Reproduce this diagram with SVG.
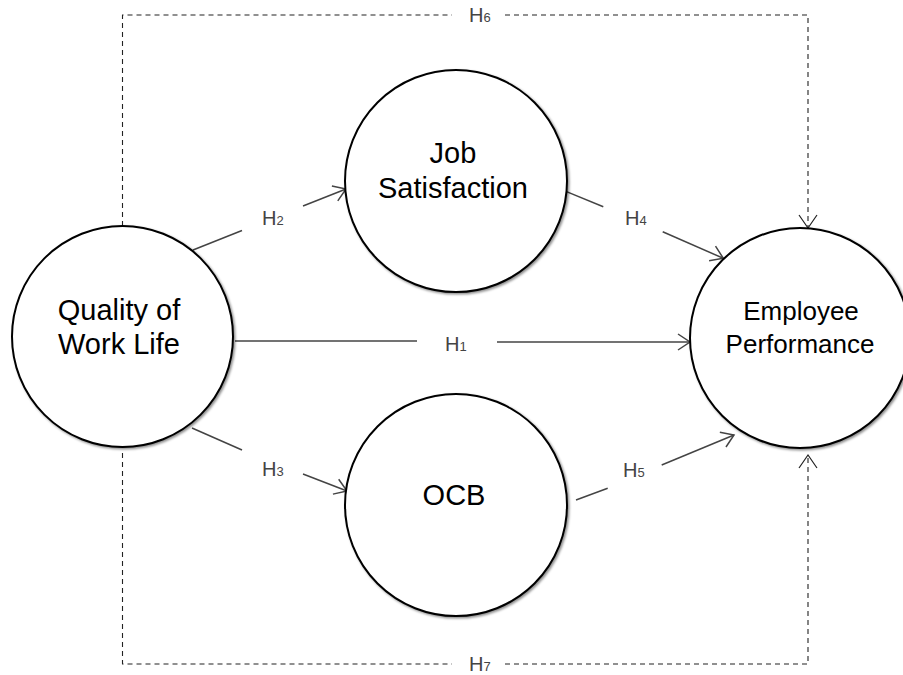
<svg xmlns="http://www.w3.org/2000/svg" width="903" height="675" viewBox="0 0 903 675">
<style>
.node circle{fill:#fff;stroke:#000;stroke-width:2;filter:url(#sh)}
.nt{font-family:"Liberation Sans",Arial,sans-serif;font-size:29px;fill:#000;text-anchor:middle}
.lab{font-family:"Liberation Sans",Arial,sans-serif;font-size:20px;fill:#444}
.sub{font-size:13px}
.con{fill:none;stroke:#444;stroke-width:1.5}
.dash{fill:none;stroke:#222;stroke-width:1.1;stroke-dasharray:5 4}
</style>
<defs>
<filter id="sh" x="-10%" y="-10%" width="125%" height="125%">
<feDropShadow dx="1.5" dy="1.5" stdDeviation="0.8" flood-color="#000" flood-opacity="0.45"/>
</filter>
<marker id="ah" viewBox="-14 -10 16 20" markerWidth="16" markerHeight="20" refX="0" refY="0" orient="auto" markerUnits="userSpaceOnUse">
<path d="M-12,-8 L0,0 L-12,8" fill="none" stroke="#444" stroke-width="1.5"/>
</marker>
<marker id="ahd" viewBox="-15 -10 17 20" markerWidth="17" markerHeight="20" refX="0" refY="0" orient="auto" markerUnits="userSpaceOnUse">
<path d="M-13,-9 L0,0 L-13,9" fill="none" stroke="#222" stroke-width="1.2"/>
</marker>
</defs>
<rect width="903" height="675" fill="#fff"/>
<g id="connectors">
<line class="con" x1="235" y1="341" x2="417" y2="341"/>
<line class="con" x1="497" y1="342" x2="690" y2="342" marker-end="url(#ah)"/>
<line class="con" x1="193" y1="250" x2="242" y2="230.5"/>
<line class="con" x1="303" y1="206" x2="346" y2="189" marker-end="url(#ah)"/>
<line class="con" x1="192" y1="428" x2="242" y2="450"/>
<line class="con" x1="303" y1="474" x2="347" y2="491" marker-end="url(#ah)"/>
<line class="con" x1="566.5" y1="191.6" x2="603.3" y2="206.7"/>
<line class="con" x1="662.7" y1="231.7" x2="723.3" y2="258.3" marker-end="url(#ah)"/>
<line class="con" x1="576" y1="500" x2="607.7" y2="488.3"/>
<line class="con" x1="661.7" y1="465" x2="734" y2="435" marker-end="url(#ah)"/>
<path class="dash" d="M122.5,226 V15 H452"/>
<path class="dash" d="M505,15 H808 V228" marker-end="url(#ahd)"/>
<path class="dash" d="M122.5,453 V664 H452"/>
<path class="dash" d="M505,664 H808 V455" marker-end="url(#ahd)"/>
<text class="lab" x="445" y="351">H<tspan class="sub">1</tspan></text>
<text class="lab" x="262" y="225">H<tspan class="sub">2</tspan></text>
<text class="lab" x="262" y="476">H<tspan class="sub">3</tspan></text>
<text class="lab" x="625" y="225">H<tspan class="sub">4</tspan></text>
<text class="lab" x="623" y="477">H<tspan class="sub">5</tspan></text>
<text class="lab" x="469" y="22">H<tspan class="sub">6</tspan></text>
<text class="lab" x="469" y="671">H<tspan class="sub">7</tspan></text>
</g>
<g id="qwl" class="node">
<circle cx="122.5" cy="336.5" r="110.5"/>
<text class="nt" x="119" y="320">Quality of</text>
<text class="nt" x="119" y="354">Work Life</text>
</g>
<g id="js" class="node">
<circle cx="456" cy="181" r="111"/>
<text class="nt" x="453" y="163">Job</text>
<text class="nt" x="453" y="198">Satisfaction</text>
</g>
<g id="ocb" class="node">
<circle cx="456" cy="505" r="111"/>
<text class="nt" x="454" y="505">OCB</text>
</g>
<g id="ep" class="node">
<circle cx="800" cy="338" r="110"/>
<text class="nt" x="801" y="320" style="font-size:26px">Employee</text>
<text class="nt" x="800" y="353" style="font-size:26px">Performance</text>
</g>
</svg>
